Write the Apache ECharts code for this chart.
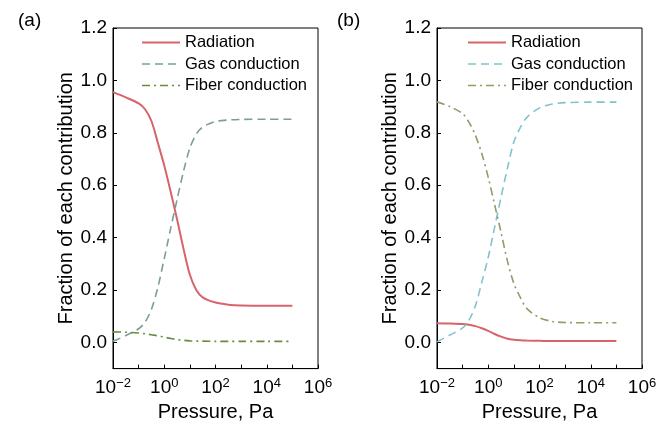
<!DOCTYPE html>
<html>
<head>
<meta charset="utf-8">
<script src="https://cdn.jsdelivr.net/npm/echarts@6/dist/echarts.min.js"></script>
<style>
  html, body { margin: 0; padding: 0; background: #fff; }
  #chart { width: 672px; height: 427px; }
</style>
</head>
<body>
<div id="chart"></div>
<script>
// pressure samples (Pa)
var pressure = [0.01, 0.0316, 0.1, 0.178, 0.316, 0.562, 1, 1.78, 3.16, 5.62, 10, 17.8, 31.6, 100, 316, 1000, 10000, 100000];

// panel (a)
var radiationA = [0.955, 0.935, 0.912, 0.89, 0.845, 0.762, 0.675, 0.575, 0.47, 0.358, 0.258, 0.2, 0.172, 0.152, 0.144, 0.141, 0.14, 0.14];
var gasA = [0.004, 0.026, 0.052, 0.077, 0.126, 0.21, 0.32, 0.435, 0.545, 0.652, 0.742, 0.795, 0.822, 0.843, 0.849, 0.851, 0.852, 0.852];
var fiberA = [0.04, 0.039, 0.036, 0.033, 0.029, 0.025, 0.02, 0.015, 0.011, 0.008, 0.006, 0.005, 0.005, 0.004, 0.004, 0.004, 0.004, 0.004];

// panel (b)
var radiationB = [0.073, 0.072, 0.07, 0.067, 0.062, 0.054, 0.044, 0.032, 0.022, 0.014, 0.01, 0.008, 0.007, 0.006, 0.005, 0.005, 0.005, 0.005];
var gasB = [0.002, 0.028, 0.055, 0.085, 0.14, 0.23, 0.325, 0.44, 0.555, 0.665, 0.765, 0.82, 0.858, 0.895, 0.91, 0.915, 0.917, 0.917];
var fiberB = [0.918, 0.9, 0.873, 0.84, 0.79, 0.72, 0.63, 0.525, 0.42, 0.31, 0.225, 0.172, 0.13, 0.094, 0.08, 0.076, 0.075, 0.075];

var names = ['Radiation', 'Gas conduction', 'Fiber conduction'];
var xTicks = [0.01, 0.1, 1, 10, 100, 1000, 10000, 100000, 1000000];
var xLabels = [0.01, 1, 100, 10000, 1000000];
var yTicks = [0, 0.2, 0.4, 0.6, 0.8, 1.0, 1.2];

var FONT = 'Liberation Sans, Arial, sans-serif';
var colorsA = ['#d8646b', '#7a9e98', '#6a8c3e'];
var colorsB = ['#d8646b', '#80c3cc', '#8b9f66'];
var dashes = ['solid', [8, 5], [8, 4, 2, 4]];
var widths = [2, 1.6, 1.6];

function pairs(ys) {
  return pressure.map(function (p, i) { return [p, ys[i]]; });
}

function xAxis(gi) {
  return {
    type: 'log', logBase: 10, gridIndex: gi, min: 0.01, max: 1000000,
    name: 'Pressure, Pa', nameLocation: 'middle', nameGap: 32,
    nameTextStyle: { fontSize: 20, color: '#000', fontFamily: FONT },
    axisLine: { onZero: false, lineStyle: { color: '#000', width: 1 } },
    axisTick: { inside: true, length: 4, customValues: xTicks, lineStyle: { color: '#000' } },
    splitLine: { show: false },
    axisLabel: {
      customValues: xLabels, margin: 8, color: '#000',
      formatter: function (v) {
        var e = Math.round(Math.log10(v));
        return '{b|10}{s|' + (e < 0 ? '\u2212' + (-e) : e) + '}';
      },
      rich: {
        b: { fontSize: 19, fontFamily: FONT, color: '#000' },
        s: { fontSize: 13, fontFamily: FONT, color: '#000', padding: [0, 0, 9, 0] }
      }
    }
  };
}

function yAxis(gi) {
  return {
    type: 'value', gridIndex: gi, min: -0.1, max: 1.2,
    name: 'Fraction of each contribution', nameLocation: 'middle', nameGap: 32,
    nameTextStyle: { fontSize: 20, color: '#000', fontFamily: FONT },
    axisLine: { show: true, onZero: false, lineStyle: { color: '#000', width: 1 } },
    axisTick: { show: true, inside: true, length: 4, customValues: yTicks, lineStyle: { color: '#000' } },
    splitLine: { show: false },
    axisLabel: {
      customValues: yTicks, margin: 6, fontSize: 19, color: '#000', fontFamily: FONT,
      formatter: function (v) { return v.toFixed(1); }
    }
  };
}

function makeSeries(gi, sets, colors) {
  return sets.map(function (ys, k) {
    return {
      type: 'line', name: names[k], xAxisIndex: gi, yAxisIndex: gi,
      data: pairs(ys), showSymbol: false, symbol: 'none',
      smooth: 0.3,
      lineStyle: { color: colors[k], width: widths[k], type: dashes[k] },
      itemStyle: { color: colors[k] }
    };
  });
}

function legend(left, colors) {
  return {
    orient: 'vertical', left: left, top: 34, padding: 0,
    itemWidth: 38, itemHeight: 14, itemGap: 4.5,
    itemStyle: { opacity: 0 },
    textStyle: { fontSize: 16.5, color: '#000', fontFamily: FONT },
    data: names.map(function (n, k) {
      return { name: n, lineStyle: { color: colors[k], width: widths[k], type: dashes[k] } };
    })
  };
}

var chart = echarts.init(document.getElementById('chart'));
chart.setOption({
  animation: false,
  title: [
    { text: '(a)', left: 13, top: 6, textStyle: { fontSize: 19, fontWeight: 'normal', color: '#000', fontFamily: FONT } },
    { text: '(b)', left: 332, top: 6, textStyle: { fontSize: 19, fontWeight: 'normal', color: '#000', fontFamily: FONT } }
  ],
  grid: [
    { left: 113, top: 28, width: 205, height: 343.5, show: true, borderColor: '#000', borderWidth: 1, backgroundColor: 'transparent' },
    { left: 437, top: 28, width: 205, height: 343.5, show: true, borderColor: '#000', borderWidth: 1, backgroundColor: 'transparent' }
  ],
  legend: [legend(141, colorsA), legend(467, colorsB)],
  xAxis: [xAxis(0), xAxis(1)],
  yAxis: [yAxis(0), yAxis(1)],
  series: makeSeries(0, [radiationA, gasA, fiberA], colorsA)
    .concat(makeSeries(1, [radiationB, gasB, fiberB], colorsB))
});
</script>
</body>
</html>
